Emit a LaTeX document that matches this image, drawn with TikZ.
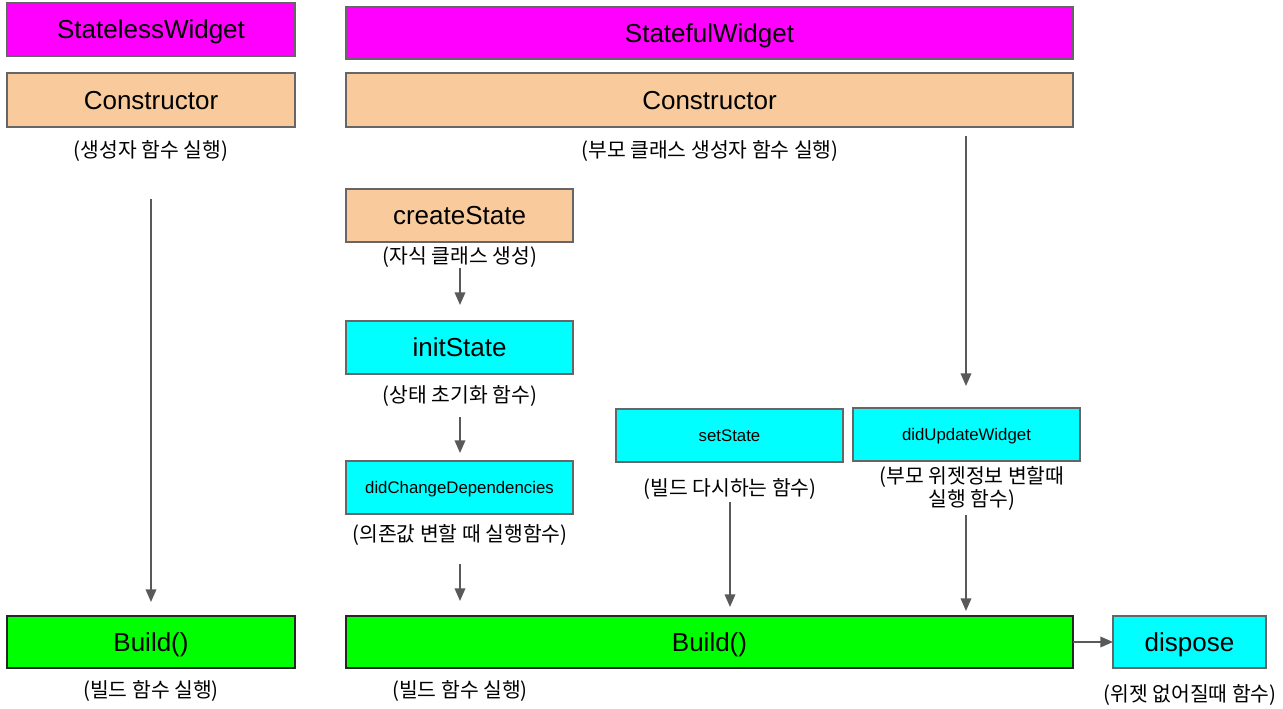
\documentclass[tikz,border=0pt]{standalone}
\usepackage{fontspec}
\setmainfont{Liberation Sans}
\newfontfamily\kr{Noto Sans CJK KR}
\usetikzlibrary{arrows.meta}
\definecolor{mag}{HTML}{FF00FF}
\definecolor{peach}{HTML}{F9CB9C}
\definecolor{cyanb}{HTML}{00FFFF}
\definecolor{greenb}{HTML}{00FF00}
\definecolor{edge}{HTML}{666666}
\definecolor{arr}{HTML}{595959}
\tikzset{
  box/.style={draw=edge, line width=1.1pt, inner sep=0pt, outer sep=0pt,
    text height=13.6pt, text depth=0pt, font=\fontsize{19.5}{22}\selectfont},
  sbox/.style={box, text height=8.8pt, font=\fontsize{12.6}{14}\selectfont},
  bbox/.style={box, draw=black!85},
  wh/.style 2 args={minimum width=#1*0.75pt, minimum height=#2*0.75pt},
  capt/.style={inner sep=0pt, align=center, font=\kr\fontsize{15.3}{17.3}\selectfont},
  flow/.style={draw=arr, line width=1.1pt, -{Triangle[length=9.5pt,width=8pt]}}
}
\begin{document}
\begin{tikzpicture}[x=0.75pt,y=-0.75pt]
\useasboundingbox (0,0) rectangle (1283,709);
% left column
\node[box, fill=mag, wh={288}{53}] (slw) at (151,29.5) {StatelessWidget};
\node[box, fill=peach, wh={288}{54}] (consl) at (151,100) {Constructor};
\node[capt] (consl-cap) at (151,151) {(생성자 함수 실행)};
\node[bbox, fill=greenb, wh={288}{52}] (buildl) at (151,642) {Build()};
\node[capt] (buildl-cap) at (151,691) {(빌드 함수 실행)};
% right column
\node[box, fill=mag, wh={727}{52}] (sfw) at (709.5,33) {StatefulWidget};
\node[box, fill=peach, wh={727}{54}] (consr) at (709.5,100) {Constructor};
\node[capt] (consr-cap) at (710,151) {(부모 클래스 생성자 함수 실행)};
\node[box, fill=peach, wh={227}{53}] (cs) at (459.5,215.5) {createState};
\node[capt] (cs-cap) at (460,257) {(자식 클래스 생성)};
\node[box, fill=cyanb, wh={227}{53}] (is) at (459.5,347.5) {initState};
\node[capt] (is-cap) at (460,396) {(상태 초기화 함수)};
\node[sbox, fill=cyanb, wh={227}{53}] (dcd) at (459.5,487.5) {didChangeDependencies};
\node[capt] (dcd-cap) at (460,535) {(의존값 변할 때 실행함수)};
\node[sbox, fill=cyanb, wh={227}{53}] (ss) at (729.5,435.5) {setState};
\node[capt] (ss-cap) at (730,489) {(빌드 다시하는 함수)};
\node[sbox, fill=cyanb, wh={227}{53}] (duw) at (966.5,434.5) {didUpdateWidget};
\node[capt] (duw-cap) at (972,488.5) {(부모 위젯정보 변할때\\실행 함수)};
\node[bbox, fill=greenb, wh={727}{52}] (buildr) at (709.5,642) {Build()};
\node[capt] (buildr-cap) at (460,691) {(빌드 함수 실행)};
\node[box, fill=cyanb, wh={153}{52}] (disp) at (1189.5,642) {dispose};
\node[capt] (disp-cap) at (1190,695) {(위젯 없어질때 함수)};
% arrow endpoints
\coordinate (a1s) at (151,199); \coordinate (a1e) at (151,602);
\coordinate (a2s) at (460,268); \coordinate (a2e) at (460,305);
\coordinate (a3s) at (460,417); \coordinate (a3e) at (460,453);
\coordinate (a4s) at (460,564); \coordinate (a4e) at (460,601);
\coordinate (a5s) at (966,136); \coordinate (a5e) at (966,386);
\coordinate (a6s) at (730,502); \coordinate (a6e) at (730,607);
\coordinate (a7s) at (966,515); \coordinate (a7e) at (966,611);
\draw[flow] (a1s) -- (a1e);
\draw[flow] (a2s) -- (a2e);
\draw[flow] (a3s) -- (a3e);
\draw[flow] (a4s) -- (a4e);
\draw[flow] (a5s) -- (a5e);
\draw[flow] (a6s) -- (a6e);
\draw[flow] (a7s) -- (a7e);
\draw[flow] (buildr.east) -- (disp.west);
\end{tikzpicture}
\end{document}
